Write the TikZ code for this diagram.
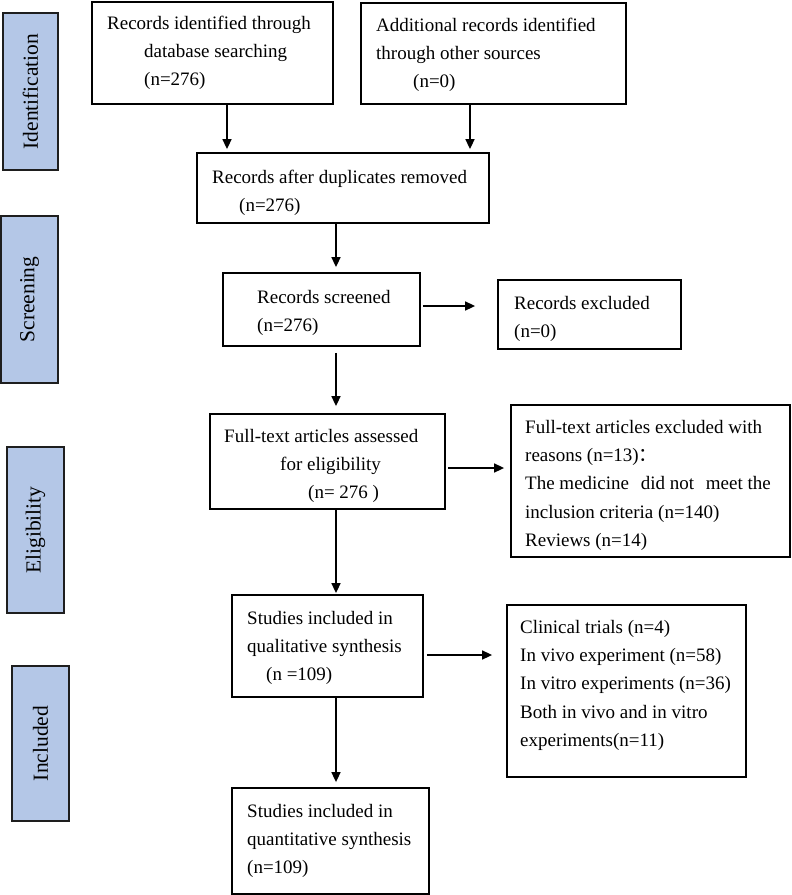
\documentclass[tikz,border=0pt]{standalone}
\usepackage{fontspec}
\setmainfont{Liberation Serif}
\newfontfamily\cjk{Noto Sans CJK SC}
\usetikzlibrary{calc,arrows.meta}
\definecolor{phaseblue}{RGB}{180,199,231}
\definecolor{phaseedge}{RGB}{30,30,30}
\begin{document}
\begin{tikzpicture}[x=1pt,y=-1pt,
  phase/.style={draw=phaseedge, fill=phaseblue, line width=1.6pt, inner sep=0pt, rotate=90, font=\fontsize{21.5}{24}\selectfont},
  box/.style={draw=black, line width=1.8pt, inner sep=0pt},
  txt/.style={anchor=north west, inner sep=0pt, align=left, font=\fontsize{19}{28.3}\selectfont},
  arr/.style={-{Triangle[length=10pt,width=9pt]}, line width=1.6pt}]
\useasboundingbox (0,0) rectangle (792,895);

% phase labels
\node[phase, minimum width=157pt, minimum height=55pt] (p1) at (30.5,91.5) {Identification};
\node[phase, minimum width=167pt, minimum height=57pt] (p2) at (29.5,299.5) {Screening};
\node[phase, minimum width=166pt, minimum height=57pt] (p3) at (35.5,530) {Eligibility};
\node[phase, minimum width=155pt, minimum height=57pt] (p4) at (40.5,743.5) {Included};

% boxes
\node[box, minimum width=241pt, minimum height=102pt] (b1) at (212.5,53) {};
\node[box, minimum width=265pt, minimum height=101pt] (b2) at (493.5,53.5) {};
\node[box, minimum width=292pt, minimum height=70pt] (b3) at (343,188) {};
\node[box, minimum width=197pt, minimum height=73pt] (b4) at (321.5,309.5) {};
\node[box, minimum width=183pt, minimum height=69pt] (b5) at (589.5,314.5) {};
\node[box, minimum width=235pt, minimum height=95pt] (b6) at (327.5,461.5) {};
\node[box, minimum width=279pt, minimum height=152pt] (b7) at (650.5,481) {};
\node[box, minimum width=191pt, minimum height=102pt] (b8) at (327.5,646) {};
\node[box, minimum width=239pt, minimum height=172pt] (b9) at (626.5,691) {};
\node[box, minimum width=197pt, minimum height=106pt] (b10) at (330.5,841) {};

% texts
\node[txt] (t1) at (107,14) {\rule{0pt}{15pt}Records identified through\\\hspace*{37pt}database searching\\\hspace*{37pt}(n=276)};
\node[txt] (t2) at (376,16) {\rule{0pt}{15pt}Additional records identified\\through other sources\\\hspace*{37pt}(n=0)};
\node[txt] (t3) at (212,168) {\rule{0pt}{15pt}Records after duplicates removed\\\hspace*{27pt}(n=276)};
\node[txt] (t4) at (257,288) {\rule{0pt}{15pt}Records screened\\(n=276)};
\node[txt] (t5) at (514,294) {\rule{0pt}{15pt}Records excluded\\(n=0)};
\node[txt] (t6) at (224,427) {\rule{0pt}{15pt}Full-text articles assessed\\\hspace*{56pt}for eligibility\\\hspace*{84pt}(n= 276 )};
\node[txt] (t7) at (525,418) {\rule{0pt}{15pt}Full-text articles excluded with\\reasons (n=13){\cjk ：}\\The medicine\hspace{7pt} did not\hspace{7pt} meet the\\inclusion criteria (n=140)\\Reviews (n=14)};
\node[txt] (t8) at (247,609) {\rule{0pt}{15pt}Studies included in\\qualitative synthesis\\\hspace*{19pt}(n =109)};
\node[txt] (t9) at (520,618) {\rule{0pt}{15pt}Clinical trials (n=4)\\In vivo experiment (n=58)\\In vitro experiments (n=36)\\Both in vivo and in vitro\\experiments(n=11)};
\node[txt] (t10) at (247,802) {\rule{0pt}{15pt}Studies included in\\quantitative synthesis\\(n=109)};

% arrows
\draw[arr, shorten >=3pt] ($(b1.south)+(14.5,0)$) coordinate (a1) -- (a1 |- b3.north);
\draw[arr, shorten >=3pt] ($(b2.south)+(-23.5,0)$) coordinate (a2) -- (a2 |- b3.north);
\draw[arr, shorten >=5pt] ($(b3.south)+(-7,0)$) coordinate (a3) -- (a3 |- b4.north);
\draw[arr, shorten <=6pt, shorten >=7pt] ($(b4.south)+(14.5,0)$) coordinate (a4) -- (a4 |- b6.north);
\draw[arr, shorten >=1pt] ($(b6.south)+(8.5,0)$) coordinate (a5) -- (a5 |- b8.north);
\draw[arr, shorten >=5pt] ($(b8.south)+(8.5,0)$) coordinate (a6) -- (a6 |- b10.north);
\draw[arr, shorten <=2pt, shorten >=22pt] ($(b4.east)+(0,-3.5)$) coordinate (h1) -- (h1 -| b5.west);
\draw[arr, shorten <=2pt, shorten >=6pt] ($(b6.east)+(0,6.5)$) coordinate (h2) -- (h2 -| b7.west);
\draw[arr, shorten <=3pt, shorten >=14pt] ($(b8.east)+(0,9)$) coordinate (h3) -- (h3 -| b9.west);
\end{tikzpicture}
\end{document}
